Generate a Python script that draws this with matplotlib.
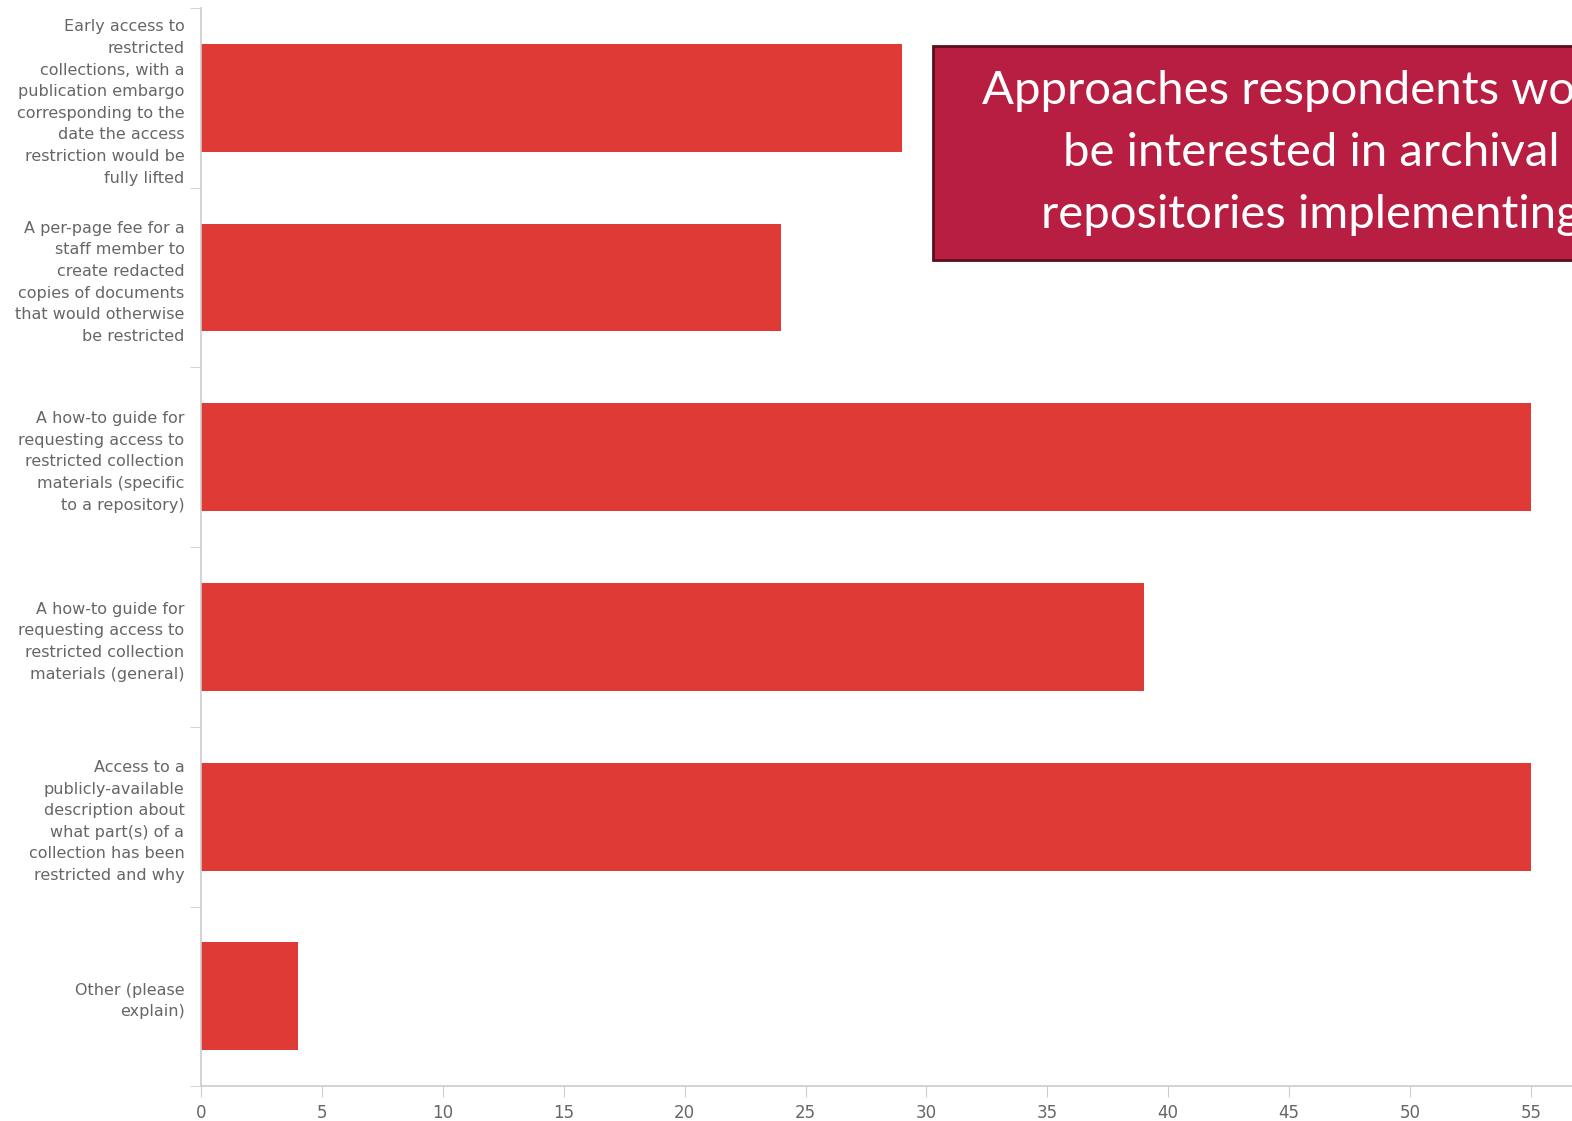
import matplotlib.pyplot as plt
from matplotlib.patches import Rectangle

categories = [
    "Early access to\nrestricted\ncollections, with a\npublication embargo\ncorresponding to the\ndate the access\nrestriction would be\nfully lifted",
    "A per-page fee for a\nstaff member to\ncreate redacted\ncopies of documents\nthat would otherwise\nbe restricted",
    "A how-to guide for\nrequesting access to\nrestricted collection\nmaterials (specific\nto a repository)",
    "A how-to guide for\nrequesting access to\nrestricted collection\nmaterials (general)",
    "Access to a\npublicly-available\ndescription about\nwhat part(s) of a\ncollection has been\nrestricted and why",
    "Other (please\nexplain)",
]
counts = [29, 24, 55, 39, 55, 4]
xticks = [0, 5, 10, 15, 20, 25, 30, 35, 40, 45, 50, 55]
title = "Approaches respondents would\nbe interested in archival\nrepositories implementing"

fig = plt.figure(figsize=(15.72, 11.21), dpi=100)
ax = fig.add_axes([0.1279, 0.031, 0.8721, 0.962])

pos = list(range(len(categories)))
ax.barh(pos, counts, height=0.6, color="#e03a36")

ax.set_xlim(0, 56.7)
ax.set_ylim(len(categories) - 0.5, -0.5)
ax.set_yticks(pos)
ax.set_yticklabels(categories, fontsize=11.5, color="#666666", linespacing=1.55)
ax.set_yticks([p - 0.5 for p in pos] + [len(categories) - 0.5], minor=True)
ax.tick_params(axis="y", which="major", length=0, pad=12)
ax.tick_params(axis="y", which="minor", length=8, color="#cccccc")
ax.set_xticks(xticks)
ax.tick_params(axis="x", length=8, color="#cccccc", labelsize=12, labelcolor="#666666", pad=5)

for s in ["top", "right"]:
    ax.spines[s].set_visible(False)
for s in ["left", "bottom"]:
    ax.spines[s].set_color("#cccccc")
    ax.spines[s].set_linewidth(1.2)

# title box, cut off at the right edge like the slide
box = Rectangle((0.5935, 0.768), 0.5, 0.191, transform=fig.transFigure,
                facecolor="#b81e41", edgecolor="#5a0f1e", linewidth=2, zorder=5)
fig.add_artist(box)
fig.text(0.834, 0.8635, title, ha="center", va="center", multialignment="center",
         fontsize=34, color="white", family="Lato", linespacing=1.6, zorder=6)

fig.savefig("out.png", dpi=100)
